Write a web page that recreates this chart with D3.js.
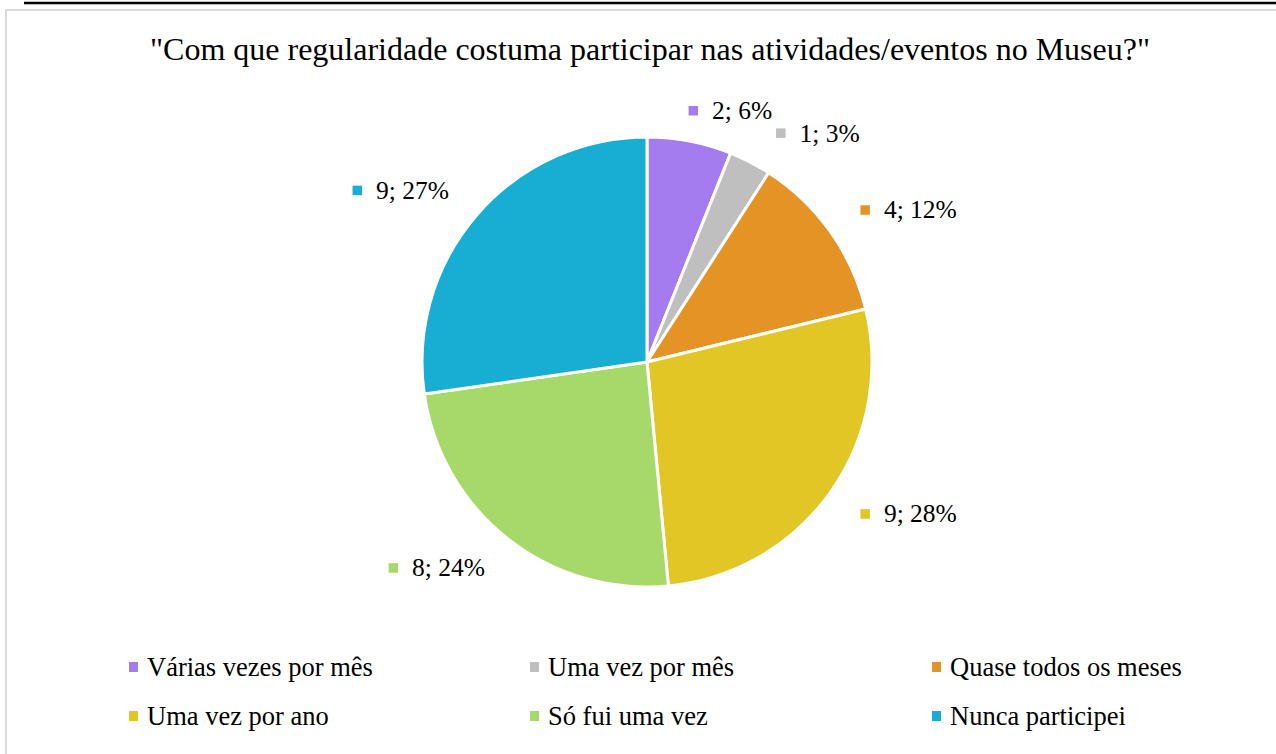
<!DOCTYPE html>
<html>
<head>
<meta charset="utf-8">
<script src="https://cdn.jsdelivr.net/npm/d3@7"></script>
<style>
  html, body { margin: 0; padding: 0; background: #fff; }
  svg { display: block; }
</style>
</head>
<body>
<svg id="chart" width="1276" height="754"></svg>
<script>
// Survey answers: how often respondents take part in the museum's activities/events
const categories = [
  "Várias vezes por mês",
  "Uma vez por mês",
  "Quase todos os meses",
  "Uma vez por ano",
  "Só fui uma vez",
  "Nunca participei"
];
const counts = [2, 1, 4, 9, 8, 9];
const percentLabels = ["6%", "3%", "12%", "28%", "24%", "27%"];
const colors = ["#a57bf0", "#bfbfbf", "#e49425", "#e2c626", "#a6d96a", "#18aed3"];
const titleText = "\"Com que regularidade costuma participar nas atividades/eventos no Museu?\"";

const W = 1276, H = 754;
const FONT = "Liberation Serif, Tinos, Times New Roman, DejaVu Serif, serif";
const svg = d3.select("#chart");

// page frame: black rule on top, light grey chart border
svg.append("line")
  .attr("x1", 24).attr("x2", W).attr("y1", 3).attr("y2", 3)
  .attr("stroke", "#000").attr("stroke-width", 2.5);
svg.append("path")
  .attr("d", `M6,${H + 5} L6,10 L${W + 5},10`)
  .attr("fill", "none").attr("stroke", "#d9d9d9").attr("stroke-width", 2);

// title
svg.append("text")
  .attr("x", 650).attr("y", 60)
  .attr("text-anchor", "middle")
  .style("font-family", FONT)
  .style("font-size", "32px")
  .attr("fill", "#000")
  .text(titleText);

// pie
const cx = 647, cy = 362, radius = 225;
const pie = d3.pie().sort(null).value(d => d.value);
const data = categories.map((c, i) => ({ name: c, value: counts[i], pct: percentLabels[i], color: colors[i] }));
const arcs = pie(data);
const arc = d3.arc().innerRadius(0).outerRadius(radius);

const g = svg.append("g").attr("transform", `translate(${cx},${cy})`);
g.selectAll("path.slice")
  .data(arcs)
  .join("path")
  .attr("class", "slice")
  .attr("d", arc)
  .attr("fill", d => d.data.color)
  .attr("stroke", "#fff")
  .attr("stroke-width", 3)
  .attr("stroke-linejoin", "round");

// data labels outside the pie: small colour key + "value; percent"
const labelRadius = 262;
const labelFont = 25.5;
const keySize = 9.5;
const keyGap = 14;
const labelShift = [[-8, 6], [9, 4], [0, 0], [0, 0], [0, 0], [0, 0]];

const labels = g.selectAll("g.label")
  .data(arcs)
  .join("g")
  .attr("class", "label");

labels.each(function(d, i) {
  const sel = d3.select(this);
  const mid = (d.startAngle + d.endAngle) / 2;
  const px = Math.sin(mid) * labelRadius + labelShift[i][0];
  const py = -Math.cos(mid) * labelRadius + labelShift[i][1];
  const txt = sel.append("text")
    .style("font-family", FONT)
    .style("font-size", labelFont + "px")
    .attr("fill", "#000")
    .attr("y", py + labelFont * 0.33)
    .text(`${d.data.value}; ${d.data.pct}`);
  const tw = txt.node().getComputedTextLength();
  const boxW = keySize + keyGap + tw;
  const left = Math.sin(mid) >= 0 ? px : px - boxW;
  sel.append("rect")
    .attr("x", left).attr("y", py - keySize / 2)
    .attr("width", keySize).attr("height", keySize)
    .attr("fill", d.data.color);
  txt.attr("x", left + keySize + keyGap);
});

// legend: two rows of three entries
const legendCols = [129, 530, 932];
const legendRows = [667, 716];
const legendFont = 26.5;
const legend = svg.append("g").attr("class", "legend");
data.forEach((d, i) => {
  const x = legendCols[i % 3];
  const y = legendRows[Math.floor(i / 3)];
  legend.append("rect")
    .attr("x", x).attr("y", y - 5)
    .attr("width", 9).attr("height", 10)
    .attr("fill", d.color);
  legend.append("text")
    .attr("x", x + 18).attr("y", y + legendFont * 0.33)
    .style("font-family", FONT)
    .style("font-size", legendFont + "px")
    .attr("fill", "#000")
    .text(d.name);
});
</script>
</body>
</html>
